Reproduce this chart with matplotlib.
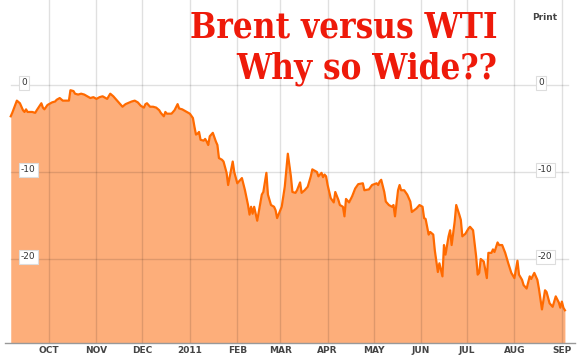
import matplotlib
matplotlib.use("Agg")
import matplotlib.pyplot as plt
import pandas as pd

# Brent minus WTI spread
dates = [
    "2010-09-06", "2010-09-07", "2010-09-10", "2010-09-12", "2010-09-14", "2010-09-15",
    "2010-09-16", "2010-09-17", "2010-09-20", "2010-09-22", "2010-09-23", "2010-09-26",
    "2010-09-27", "2010-09-28", "2010-09-30", "2010-10-03", "2010-10-05", "2010-10-06",
    "2010-10-08", "2010-10-10", "2010-10-12", "2010-10-14", "2010-10-15", "2010-10-17",
    "2010-10-18", "2010-10-20", "2010-10-22", "2010-10-24", "2010-10-26", "2010-10-28",
    "2010-10-30", "2010-11-01", "2010-11-03", "2010-11-05", "2010-11-08", "2010-11-10",
    "2010-11-12", "2010-11-14", "2010-11-16", "2010-11-18", "2010-11-20", "2010-11-24",
    "2010-11-26", "2010-11-28", "2010-11-30", "2010-12-02", "2010-12-03", "2010-12-04",
    "2010-12-06", "2010-12-08", "2010-12-10", "2010-12-12", "2010-12-13", "2010-12-15",
    "2010-12-16", "2010-12-17", "2010-12-20", "2010-12-22", "2010-12-24", "2010-12-25",
    "2010-12-27", "2010-12-29", "2011-01-01", "2011-01-03", "2011-01-04", "2011-01-05",
    "2011-01-06", "2011-01-07", "2011-01-08", "2011-01-10", "2011-01-11", "2011-01-12",
    "2011-01-13", "2011-01-14", "2011-01-16", "2011-01-18", "2011-01-19", "2011-01-20",
    "2011-01-22", "2011-01-23", "2011-01-25", "2011-01-26", "2011-01-29", "2011-01-30",
    "2011-02-01", "2011-02-03", "2011-02-04", "2011-02-06", "2011-02-08", "2011-02-09",
    "2011-02-10", "2011-02-11", "2011-02-12", "2011-02-14", "2011-02-16", "2011-02-17",
    "2011-02-18", "2011-02-20", "2011-02-21", "2011-02-23", "2011-02-25", "2011-02-26",
    "2011-02-27", "2011-03-02", "2011-03-04", "2011-03-06", "2011-03-08", "2011-03-09",
    "2011-03-11", "2011-03-12", "2011-03-14", "2011-03-15", "2011-03-17", "2011-03-19",
    "2011-03-21", "2011-03-22", "2011-03-25", "2011-03-26", "2011-03-28", "2011-03-29",
    "2011-03-30", "2011-03-31", "2011-04-01", "2011-04-03", "2011-04-05", "2011-04-06",
    "2011-04-08", "2011-04-09", "2011-04-11", "2011-04-12", "2011-04-13", "2011-04-15",
    "2011-04-17", "2011-04-19", "2011-04-21", "2011-04-24", "2011-04-25", "2011-04-28",
    "2011-04-30", "2011-05-03", "2011-05-04", "2011-05-05", "2011-05-06", "2011-05-08",
    "2011-05-09", "2011-05-11", "2011-05-13", "2011-05-14", "2011-05-15", "2011-05-17",
    "2011-05-18", "2011-05-19", "2011-05-21", "2011-05-23", "2011-05-25", "2011-05-26",
    "2011-05-29", "2011-05-31", "2011-06-02", "2011-06-03", "2011-06-04", "2011-06-06",
    "2011-06-07", "2011-06-09", "2011-06-10", "2011-06-12", "2011-06-13", "2011-06-15",
    "2011-06-16", "2011-06-17", "2011-06-19", "2011-06-20", "2011-06-21", "2011-06-23",
    "2011-06-24", "2011-06-26", "2011-06-27", "2011-06-28", "2011-06-30", "2011-07-02",
    "2011-07-03", "2011-07-05", "2011-07-07", "2011-07-08", "2011-07-09", "2011-07-10",
    "2011-07-12", "2011-07-14", "2011-07-15", "2011-07-17", "2011-07-18", "2011-07-19",
    "2011-07-21", "2011-07-22", "2011-07-24", "2011-07-26", "2011-07-28", "2011-07-30",
    "2011-08-01", "2011-08-03", "2011-08-04", "2011-08-06", "2011-08-07", "2011-08-09",
    "2011-08-11", "2011-08-12", "2011-08-14", "2011-08-16", "2011-08-17", "2011-08-19",
    "2011-08-21", "2011-08-22", "2011-08-24", "2011-08-26", "2011-08-28", "2011-08-30",
    "2011-08-31", "2011-09-01", "2011-09-02", "2011-09-03",
]
spread = [
    -3.6, -3.2, -1.8, -2.1, -2.9, -3.1,
    -2.8, -3.1, -3.1, -3.2, -2.9, -2.1,
    -2.6, -2.8, -2.3, -2.0, -1.9, -1.7,
    -1.5, -1.8, -1.8, -1.8, -0.6, -0.7,
    -1.0, -1.1, -1.0, -1.1, -1.3, -1.5,
    -1.4, -1.6, -1.4, -1.3, -1.6, -1.0,
    -1.3, -1.7, -2.1, -2.5, -2.2, -1.9,
    -1.8, -2.0, -2.4, -2.6, -2.2, -2.1,
    -2.5, -2.5, -2.6, -2.9, -3.2, -3.6,
    -3.1, -3.3, -3.3, -2.9, -2.2, -2.7,
    -2.8, -3.0, -3.3, -3.8, -4.8, -5.7,
    -5.6, -5.4, -6.3, -6.4, -6.2, -6.5,
    -6.9, -5.9, -5.5, -6.5, -6.9, -8.4,
    -8.6, -8.8, -10.1, -11.5, -8.8, -10.0,
    -11.3, -10.9, -10.7, -12.1, -13.8, -14.9,
    -14.0, -14.8, -14.0, -15.6, -13.6, -12.6,
    -12.3, -10.1, -12.6, -13.8, -14.0, -14.4,
    -15.3, -14.0, -11.7, -7.9, -10.5, -12.3,
    -12.4, -12.1, -11.2, -12.4, -12.1, -11.7,
    -10.5, -9.7, -10.0, -10.5, -10.1, -10.6,
    -10.3, -10.5, -11.5, -13.0, -13.5, -12.3,
    -13.2, -13.8, -14.0, -15.1, -13.1, -13.5,
    -12.8, -11.9, -11.4, -11.3, -12.1, -12.0,
    -11.5, -11.3, -11.5, -11.1, -10.9, -12.3,
    -13.4, -13.8, -14.0, -13.8, -15.1, -12.1,
    -11.5, -12.1, -12.1, -12.6, -13.4, -14.6,
    -14.2, -13.8, -14.0, -15.3, -15.4, -17.2,
    -16.9, -17.2, -19.0, -21.5, -20.5, -22.0,
    -18.4, -19.5, -17.4, -16.7, -18.4, -15.7,
    -13.8, -14.9, -15.5, -17.4, -17.1, -16.5,
    -16.3, -16.7, -19.7, -21.8, -21.6, -20.0,
    -20.3, -22.2, -19.3, -19.3, -18.9, -19.2,
    -18.1, -18.4, -18.4, -19.3, -20.5, -21.6,
    -22.2, -20.2, -21.8, -22.4, -23.0, -23.4,
    -22.0, -22.3, -21.6, -22.4, -23.4, -25.8,
    -23.6, -23.8, -25.1, -25.5, -24.3, -25.0,
    -25.6, -24.9, -25.6, -25.9,
]
month_ticks = ["2010-10-01", "2010-11-01", "2010-12-01", "2011-01-01", "2011-02-01",
               "2011-03-01", "2011-04-01", "2011-05-01", "2011-06-01", "2011-07-01",
               "2011-08-01", "2011-09-01"]
month_labels = ["OCT", "NOV", "DEC", "2011", "FEB", "MAR", "APR", "MAY", "JUN",
                "JUL", "AUG", "SEP"]
y_levels = [0, -10, -20]

x = pd.to_datetime(dates)
ticks = pd.to_datetime(month_ticks)

fig = plt.figure(figsize=(5.8, 3.56), dpi=100)
ax = fig.add_axes([5 / 580, 13 / 356, 570 / 580, 343 / 356])
ax.set_xlim(pd.Timestamp("2010-09-02 06:00"), pd.Timestamp("2011-09-09 14:00"))
ax.set_ylim(-29.66, 9.77)

ax.fill_between(x, spread, -29.66, color="#fdae7a", lw=0, zorder=1)
ax.plot(x, spread, color="#ff6a00", lw=1.6, zorder=3, solid_joinstyle="round")

# grid drawn over the fill
for t in ticks:
    ax.axvline(t, color="black", alpha=0.12, lw=1, zorder=2)
for lv in y_levels:
    ax.axhline(lv, xmin=0.011, xmax=0.988, color="black", alpha=0.12, lw=1, zorder=2)

for s in ["top", "left", "right"]:
    ax.spines[s].set_visible(False)
ax.spines["bottom"].set_color("#999999")
ax.spines["bottom"].set_linewidth(1)
ax.set_yticks([])
ax.set_xticks(ticks)
ax.set_xticklabels(month_labels, fontsize=6.5, fontweight="bold", color="#444444")
ax.tick_params(axis="x", length=0, pad=2)

box = dict(boxstyle="square,pad=0.25", fc="white", ec="#dddddd", lw=0.8)
for lv in y_levels:
    ax.annotate(str(lv), xy=(0, lv), xycoords=("axes fraction", "data"),
                xytext=(16, 2), textcoords="offset pixels", fontsize=6.5,
                color="#333333", va="center", ha="left", bbox=box, zorder=5)
    ax.annotate(str(lv), xy=(0, lv), xycoords=("axes fraction", "data"),
                xytext=(533, 2), textcoords="offset pixels", fontsize=6.5,
                color="#333333", va="center", ha="left", bbox=box, zorder=5)

fig.text(545 / 580, 1 - 17 / 356, "Print", fontsize=6.5, fontweight="bold",
         color="#444444", ha="center", va="center")

title_font = dict(family="DejaVu Serif", fontweight="bold", fontstretch="condensed",
                  color="#ee1a0a", fontsize=25, ha="right", va="baseline")
fig.text(497 / 580, 1 - 37 / 356, "Brent versus WTI", **title_font)
fig.text(497 / 580, 1 - 78 / 356, "Why so Wide??", **title_font)

fig.savefig("out.png", dpi=100)
